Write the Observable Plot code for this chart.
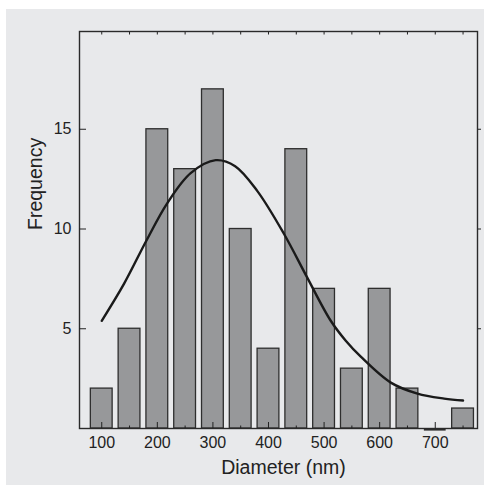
<!DOCTYPE html>
<html>
<head>
<meta charset="utf-8">
<script src="https://cdn.jsdelivr.net/npm/d3@7"></script>
<script src="https://cdn.jsdelivr.net/npm/@observablehq/plot@0.6"></script>
<style>
  html, body { margin: 0; padding: 0; background: #ffffff; }
  #chart { position: absolute; left: 6px; top: 9px; }
</style>
</head>
<body>
<div id="chart"></div>
<script>
// Histogram bins (centres, nm) and counts
const binCenters = [100, 150, 200, 250, 300, 350, 400, 450, 500, 550, 600, 650, 700, 750];
const counts     = [2, 5, 15, 13, 17, 10, 4, 14, 7, 3, 7, 2, 0, 1];
const binWidth = 50;

// Fitted curve, points
const fitX = [100, 140, 180, 218, 260, 305, 340, 380, 428, 469, 512, 539, 566, 620, 668, 716, 750];
const fitY = [5.4, 7.25, 9.4, 11.3, 12.8, 13.45, 13.15, 11.9, 9.75, 7.6, 5.4, 4.4, 3.6, 2.3, 1.75, 1.5, 1.4];

// Tick labels
const xTicks = [100, 200, 300, 400, 500, 600, 700];
const xMinorBottom = [150, 250, 350, 450, 550, 650, 750];
const xTopTicks = [100, 150, 200, 250, 300, 350, 400, 450, 500, 550, 600, 650, 700, 750];
const yTicks = [5, 10, 15];
const xLabel = "Diameter (nm)";
const yLabel = "Frequency";

const bins = binCenters.map((c, i) => ({x1: c - binWidth / 2, x2: c + binWidth / 2, count: counts[i]}));
const fit = fitX.map((x, i) => ({x, y: fitY[i]}));

const ink = "#222222";
const plot = Plot.plot({
  width: 478,
  height: 476,
  marginLeft: 73,
  marginRight: 7,
  marginTop: 22,
  marginBottom: 57,
  style: {background: "#e8e9eb", fontFamily: "'Liberation Sans', Arial, sans-serif", fontSize: "16px", color: ink},
  x: {domain: [60, 776]},
  y: {domain: [0, 19.9]},
  marks: [
    Plot.rect(bins.filter(d => d.count > 0), {x1: "x1", x2: "x2", y1: 0, y2: "count", insetLeft: 3, insetRight: 3, fill: "#97989a", stroke: "#2e2e2e", strokeWidth: 1.3}),
    Plot.ruleY(bins.filter(d => d.count === 0), {x1: "x1", x2: "x2", y: "count", insetLeft: 3, insetRight: 3, stroke: "#2e2e2e", strokeWidth: 2.2, dy: 1}),
    Plot.line(fit, {x: "x", y: "y", curve: "catmull-rom", stroke: "#1a1a1a", strokeWidth: 2.4}),
    Plot.frame({stroke: "#2a2a2a", strokeWidth: 1.4}),
    Plot.axisX(xTicks, {anchor: "bottom", tickSize: -6, tickPadding: 14, label: null, fontSize: 16}),
    Plot.axisX(xMinorBottom, {anchor: "bottom", tickSize: -2.5, fill: "none", label: null}),
    Plot.axisX(xTopTicks, {anchor: "top", tickSize: -2.5, fill: "none", label: null}),
    Plot.axisY(yTicks, {anchor: "left", tickSize: -7, tickPadding: 15, label: null, fontSize: 16}),
    Plot.axisY(yTicks, {anchor: "right", tickSize: 3, fill: "none", label: null}),
    Plot.text([xLabel], {frameAnchor: "bottom", dy: 39, dx: 5, lineAnchor: "middle", fontSize: 19.5, fill: ink}),
    Plot.text([yLabel], {frameAnchor: "left", dx: -44, rotate: -90, lineAnchor: "middle", fontSize: 19.5, fill: ink})
  ]
});
document.getElementById("chart").appendChild(plot);
</script>
</body>
</html>
